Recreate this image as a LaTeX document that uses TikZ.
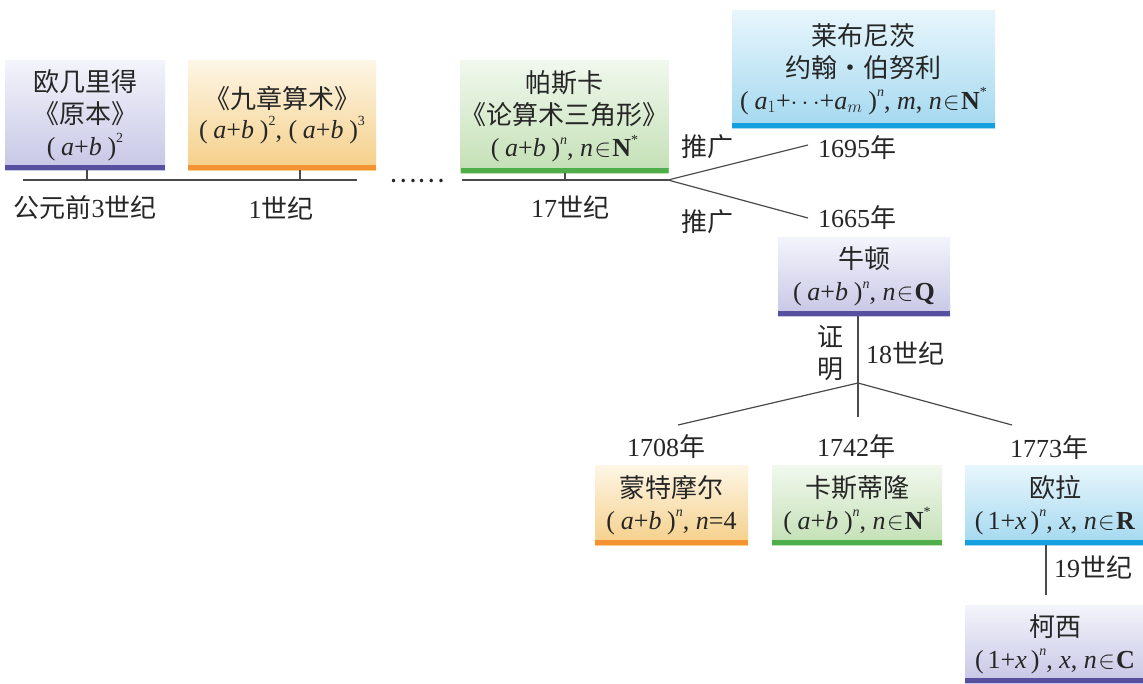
\documentclass[tikz,border=0pt]{standalone}
\usepackage{fontspec}
\setmainfont{Liberation Serif}
\newfontfamily\cjk{Noto Sans CJK SC}
\newcommand\cj[1]{{\cjk #1}}
\newcommand\sups[1]{\raisebox{0.48em}{\fontsize{14}{14}\selectfont #1}}
\newcommand\pab{(\hspace{0.22em}\textit{a}+\textit{b}\hspace{0.22em})}
\newcommand\pox{(\hspace{0.15em}1+\textit{x}\hspace{0.15em})}
\newcommand\inn{\hspace{0.05em}$\in$\hspace{0.05em}}
\newcommand\sn{\sups{\textit{n}}}
\newcommand\nstar{\sups{*}}
\definecolor{txt}{HTML}{262626}
\definecolor{ln}{HTML}{4A4A4A}
\definecolor{purT}{HTML}{F4F4FB}
\definecolor{purB}{HTML}{C6C6E6}
\definecolor{purBar}{HTML}{56509E}
\definecolor{orT}{HTML}{FDF6E6}
\definecolor{orB}{HTML}{F5CF88}
\definecolor{orBar}{HTML}{F39332}
\definecolor{grT}{HTML}{F1F8EE}
\definecolor{grB}{HTML}{C3E0B5}
\definecolor{grBar}{HTML}{4EAF4A}
\definecolor{blT}{HTML}{E8F6FC}
\definecolor{blB}{HTML}{A3D8EF}
\definecolor{blBar}{HTML}{149FDF}
\tikzset{
  fnt/.style={font=\fontsize{26}{32}\selectfont},
  boxbase/.style={fnt, text=txt, align=center, inner sep=0pt, anchor=center},
  barfill/.style={path picture={\fill[#1] ([yshift=5pt]path picture bounding box.south west) rectangle (path picture bounding box.south east);}},
  purbox/.style={boxbase, top color=purT, bottom color=purB, barfill=purBar},
  orbox/.style={boxbase, top color=orT, bottom color=orB, barfill=orBar},
  grbox/.style={boxbase, top color=grT, bottom color=grB, barfill=grBar},
  blbox/.style={boxbase, top color=blT, bottom color=blB, barfill=blBar},
  lab/.style={fnt, text=txt, inner sep=0pt, anchor=center},
  conn/.style={draw=ln, line width=1.2pt},
}
\begin{document}
\begin{tikzpicture}[x=1pt,y=-1pt]
\useasboundingbox (0,0) rectangle (1143,683);
\fill[white] (0,0) rectangle (1143,683);

% top row boxes
\node[purbox, minimum width=160, minimum height=110] (euc) at (85,115)
  {\cj{欧几里得}\\\cj{《原本》}\\\pab\sups{2}};
\node[orbox, minimum width=188, minimum height=110] (jz) at (282,115)
  {\cj{《九章算术》}\\[-2pt]\pab\sups{2}, \pab\sups{3}};
\node[grbox, minimum width=205, minimum height=113] (pas) at (564.5,116.5)
  {\cj{帕斯卡}\\\cj{《论算术三角形》}\\\pab\sn, \textit{n}\inn\textbf{N}\nstar};
\node[blbox, minimum width=263, minimum height=118] (leib) at (863.5,69)
  {\cj{莱布尼茨}\\\cj{约翰·伯努利}\\(\hspace{0.22em}\textit{a}$_1$+$\cdots$+\textit{a}$_m$\hspace{0.22em})\sn, \textit{m}, \textit{n}\inn\textbf{N}\nstar};
\node[purbox, minimum width=172, minimum height=79] (newt) at (864,276.5)
  {\cj{牛顿}\\\pab\sn, \textit{n}\inn\textbf{Q}};
\node[orbox, minimum width=153, minimum height=80] (mont) at (671.5,505)
  {\cj{蒙特摩尔}\\\pab\sn, \textit{n}=4};
\node[grbox, minimum width=170, minimum height=80] (cast) at (857,505)
  {\cj{卡斯蒂隆}\\\pab\sn, \textit{n}\inn\textbf{N}\nstar};
\node[blbox, minimum width=180, minimum height=80] (eul) at (1055,505)
  {\cj{欧拉}\\\pox\sn, \textit{x}, \textit{n}\inn\textbf{R}};
\node[purbox, minimum width=180, minimum height=78] (cau) at (1055,644)
  {\cj{柯西}\\\pox\sn, \textit{x}, \textit{n}\inn\textbf{C}};

% timeline
\coordinate (t1a) at (23,180);
\coordinate (t1b) at (357,180);
\coordinate (tk1) at (87,180);
\coordinate (tk2) at (300,180);
\coordinate (t2a) at (462,180);
\coordinate (br1) at (668,180);
\coordinate (tk3) at (565,180);
\draw[conn] (t1a) -- (t1b);
\draw[conn] (tk1) -- (tk1 |- euc.south);
\draw[conn] (tk2) -- (tk2 |- jz.south);
\draw[conn] (t2a) -- (br1);
\draw[conn] (tk3) -- (tk3 |- pas.south);
\node[lab] (dots) at (417,181) {\cj{……}};

\node[lab] (c1) at (85,208) {\cj{公元前}3\cj{世纪}};
\node[lab] (c2) at (281,208) {1\cj{世纪}};
\node[lab] (c3) at (570,207) {17\cj{世纪}};

% branches to 1695 / 1665
\coordinate (e1695) at (808,145);
\coordinate (e1665) at (808,218);
\draw[conn] (br1) -- (e1695);
\draw[conn] (br1) -- (e1665);
\node[lab] (y1695) at (857,148) {1695\cj{年}};
\node[lab] (y1665) at (857,218) {1665\cj{年}};
\node[lab] (tg1) at (707,147) {\cj{推广}};
\node[lab] (tg2) at (707,222) {\cj{推广}};

% Newton stem
\coordinate (br2) at (858,383);
\coordinate (stemEnd) at (858,417);
\coordinate (eL) at (678,425);
\coordinate (eR) at (1012,425);
\draw[conn] (newt.south -| br2) -- (stemEnd);
\draw[conn] (eL) -- (br2) -- (eR);
\node[lab] (zh) at (830,337) {\cj{证}};
\node[lab] (ming) at (830,369) {\cj{明}};
\node[lab] (c18) at (905,353) {18\cj{世纪}};

\node[lab] (y1708) at (666,447) {1708\cj{年}};
\node[lab] (y1742) at (856,447) {1742\cj{年}};
\node[lab] (y1773) at (1049,448) {1773\cj{年}};

% Euler to Cauchy
\coordinate (eb) at (1046,595);
\draw[conn] (eul.south -| eb) -- (eb);
\node[lab] (c19) at (1093,567) {19\cj{世纪}};
\end{tikzpicture}
\end{document}
